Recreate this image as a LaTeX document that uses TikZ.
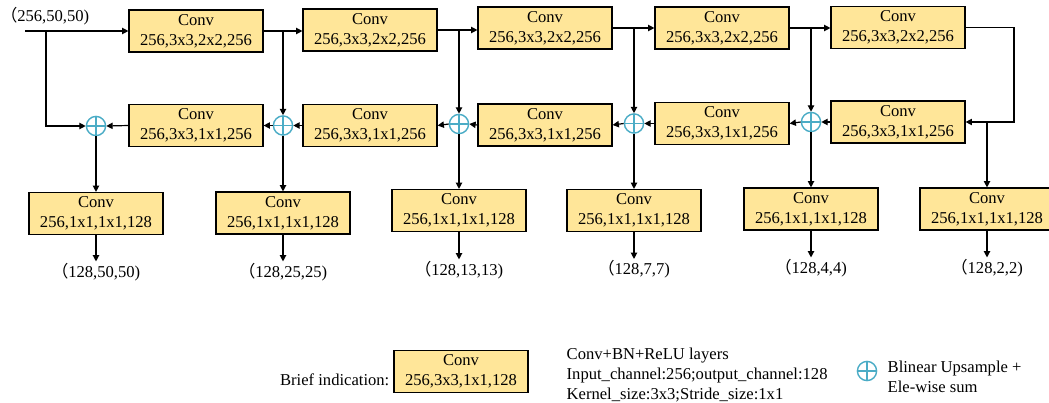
\documentclass[tikz,border=0pt]{standalone}
\usepackage{fontspec}
\setmainfont{Liberation Serif}
\newfontfamily\cjk{Noto Sans CJK SC}
\usetikzlibrary{arrows.meta}
\definecolor{convfill}{HTML}{FFE699}
\definecolor{sumcyan}{HTML}{4BACC6}
\newcommand{\lp}{{\cjk （}}

\begin{document}
\begin{tikzpicture}[x=0.025cm, y=-0.025cm,
	every node/.style={font=\fontsize{11.8}{14.2}\selectfont},
	convbox/.style={draw, line width=0.8pt, fill=convfill, minimum width=3.35cm, minimum height=1.05cm, align=center, inner sep=0pt},
	sumnode/.style={circle, draw=sumcyan, line width=1pt, minimum size=0.48cm, inner sep=0pt,
		path picture={\draw[sumcyan, line width=1pt] (path picture bounding box.north) -- (path picture bounding box.south)
			(path picture bounding box.west) -- (path picture bounding box.east);}},
	arr/.style={-{Triangle[length=4.5pt,width=4.5pt]}, line width=0.85pt},
	outlabel/.style={inner sep=1pt}]

					\useasboundingbox (0,0) rectangle (1049,402);

					\node[outlabel] (input) at (45,16) {\lp 256,50,50)};
					\coordinate (start) at (25,31);
					\coordinate (split) at (46,31);
					\coordinate (turn) at (1014,0);

					\node[convbox] (T1) at (196,31) {Conv\\256,3x3,2x2,256};
					\node[convbox] (T2) at (370,30) {Conv\\256,3x3,2x2,256};
					\node[convbox] (T3) at (545,28) {Conv\\256,3x3,2x2,256};
					\node[convbox] (T4) at (722,28) {Conv\\256,3x3,2x2,256};
					\node[convbox] (T5) at (898,27.5) {Conv\\256,3x3,2x2,256};

					\node[convbox] (M1) at (196,125.5) {Conv\\256,3x3,1x1,256};
					\node[convbox] (M2) at (370,125.5) {Conv\\256,3x3,1x1,256};
					\node[convbox] (M3) at (545,125) {Conv\\256,3x3,1x1,256};
					\node[convbox] (M4) at (722,123.5) {Conv\\256,3x3,1x1,256};
					\node[convbox] (M5) at (898,122) {Conv\\256,3x3,1x1,256};

					\node[sumnode] (S1) at (96,126) {};
					\node[sumnode] (S2) at (283,125.5) {};
					\node[sumnode] (S3) at (459,124) {};
					\node[sumnode] (S4) at (634,123.5) {};
					\node[sumnode] (S5) at (811,122) {};

					\node[convbox] (B1) at (96,213.5) {Conv\\256,1x1,1x1,128};
					\node[convbox] (B2) at (283,213) {Conv\\256,1x1,1x1,128};
					\node[convbox] (B3) at (459,210.5) {Conv\\256,1x1,1x1,128};
					\node[convbox] (B4) at (634,210.5) {Conv\\256,1x1,1x1,128};
					\node[convbox] (B5) at (811,209) {Conv\\256,1x1,1x1,128};
					\node[convbox] (B6) at (987,209) {Conv\\256,1x1,1x1,128};

					\node[outlabel] (O1) at (96,272) {\lp 128,50,50)};
					\node[outlabel] (O2) at (283,272) {\lp 128,25,25)};
					\node[outlabel] (O3) at (459,270) {\lp 128,13,13)};
					\node[outlabel] (O4) at (634,269.5) {\lp 128,7,7)};
					\node[outlabel] (O5) at (811,268) {\lp 128,4,4)};
					\node[outlabel] (O6) at (987,268) {\lp 128,2,2)};

					\draw[arr] (start) -- (start -| T1.west);
					\draw[arr] (T1.east) -- (T1.east -| T2.west);
					\draw[arr] (T2.east) -- (T2.east -| T3.west);
					\draw[arr] (T3.east) -- (T3.east -| T4.west);
					\draw[arr] (T4.east) -- (T4.east -| T5.west);
					\draw[arr] (T5.east) -- (T5.east -| turn) |- (M5.east);

					\draw[arr] (split) |- (S1.west);
					\draw[arr] (T1.east -| S2) -- (S2.north);
					\draw[arr] (T2.east -| S3) -- (S3.north);
					\draw[arr] (T3.east -| S4) -- (S4.north);
					\draw[arr] (T4.east -| S5) -- (S5.north);

					\draw[arr] (M1.west) -- (S1.east);
					\draw[arr] (S2.west) -- (M1.east);
					\draw[arr] (M2.west) -- (S2.east);
					\draw[arr] (S3.west) -- (M2.east);
					\draw[arr] (M3.west) -- (S3.east);
					\draw[arr] (S4.west) -- (M3.east);
					\draw[arr] (M4.west) -- (S4.east);
					\draw[arr] (S5.west) -- (M4.east);
					\draw[arr] (M5.west) -- (S5.east);

					\draw[arr] (S1.south) -- (B1.north);
					\draw[arr] (S2.south) -- (B2.north);
					\draw[arr] (S3.south) -- (B3.north);
					\draw[arr] (S4.south) -- (B4.north);
					\draw[arr] (S5.south) -- (B5.north);
					\draw[arr] (M5.east -| B6) -- (B6.north);

					\draw[arr] (B1.south) -- (O1.north);
					\draw[arr] (B2.south) -- (O2.north);
					\draw[arr] (B3.south) -- (O3.north);
					\draw[arr] (B4.south) -- (O4.north);
					\draw[arr] (B5.south) -- (O5.north);
					\draw[arr] (B6.south) -- (O6.north);

					\node[outlabel, anchor=east] (brief) at (391,380) {Brief indication:};
					\node[convbox] (sample) at (461,371.5) {Conv\\256,3x3,1x1,128};
					\node[outlabel, anchor=west, align=left] (layers) at (565,375) {Conv+BN+ReLU layers\\Input\_channel:256;output\_channel:128\\Kernel\_size:3x3;Stride\_size:1x1};
					\node[sumnode] (key) at (867,371) {};
					\node[outlabel, anchor=west, align=left] (keytext) at (886,377) {Blinear Upsample +\\Ele-wise sum};

				\end{tikzpicture}
\end{document}
